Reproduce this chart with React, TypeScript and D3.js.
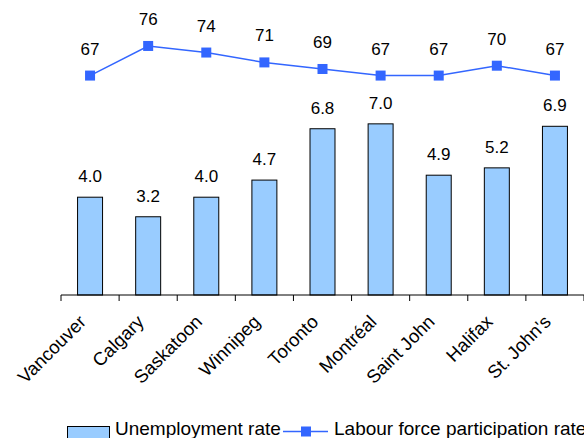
import React from "react";
import * as d3 from "d3";

const cities = [
  "Vancouver",
  "Calgary",
  "Saskatoon",
  "Winnipeg",
  "Toronto",
  "Montréal",
  "Saint John",
  "Halifax",
  "St. John's",
];
const unemploymentRate = [4.0, 3.2, 4.0, 4.7, 6.8, 7.0, 4.9, 5.2, 6.9];
const participationRate = [67, 76, 74, 71, 69, 67, 67, 70, 67];
const seriesNames = ["Unemployment rate", "Labour force participation rate"];

const W = 584;
const H = 438;
const FONT = "'Liberation Sans', Arial, sans-serif";
const BAR_FILL = "#99CCFF";
const LINE_COLOR = "#3366FF";

export default function App() {
  const baseY = 295;
  const x = d3.scaleBand<string>().domain(cities).range([61, 584]).padding(0);
  const yBar = d3.scaleLinear().domain([0, 10]).range([baseY, 50.5]);
  const yLine = d3.scaleLinear().domain([0, 80]).range([296, 32.8]);
  const bw = x.bandwidth();
  const barW = bw * 0.43;
  const cx = (c: string) => (x(c) as number) + bw / 2;

  const linePath = d3
    .line<number>()
    .x((_, i) => cx(cities[i]))
    .y((d) => yLine(d))(participationRate) as string;

  const ticks = [...cities.map((c) => x(c) as number), 584];
  const marker = 10;
  const legendY = 431.5;

  return (
    <svg
      width={W}
      height={H}
      style={{ position: "absolute", left: 0, top: 0, background: "#fff" }}
      fontFamily={FONT}
    >
      {/* unemployment bars */}
      {cities.map((c, i) => (
        <g key={c}>
          <rect
            x={cx(c) - barW / 2}
            y={yBar(unemploymentRate[i])}
            width={barW}
            height={baseY - yBar(unemploymentRate[i])}
            fill={BAR_FILL}
            stroke="#000"
            strokeWidth={1}
          />
          <text
            x={cx(c)}
            y={yBar(unemploymentRate[i]) - 15}
            textAnchor="middle"
            fontSize={17}
            fill="#000"
          >
            {unemploymentRate[i].toFixed(1)}
          </text>
        </g>
      ))}

      {/* x axis */}
      <line x1={61} x2={584} y1={baseY} y2={baseY} stroke="#000" strokeWidth={1} />
      {ticks.map((t, i) => (
        <line key={i} x1={t} x2={t} y1={baseY} y2={baseY + 6} stroke="#000" strokeWidth={1} />
      ))}
      {cities.map((c) => (
        <text
          key={c}
          transform={`translate(${cx(c) - 3},${baseY + 28}) rotate(-45)`}
          textAnchor="end"
          fontSize={18.5}
          fill="#000"
        >
          {c}
        </text>
      ))}

      {/* participation line */}
      <path d={linePath} fill="none" stroke={LINE_COLOR} strokeWidth={1.5} />
      {participationRate.map((v, i) => (
        <g key={i}>
          <rect
            x={cx(cities[i]) - marker / 2}
            y={yLine(v) - marker / 2}
            width={marker}
            height={marker}
            fill={LINE_COLOR}
          />
          <text x={cx(cities[i])} y={yLine(v) - 21} textAnchor="middle" fontSize={17} fill="#000">
            {v}
          </text>
        </g>
      ))}

      {/* legend */}
      <rect x={67.5} y={legendY - 5} width={42} height={12} fill={BAR_FILL} stroke="#000" strokeWidth={1} />
      <text x={115} y={434.5} fontSize={19} fill="#000">
        {seriesNames[0]}
      </text>
      <line x1={283} x2={328} y1={legendY} y2={legendY} stroke={LINE_COLOR} strokeWidth={1.5} />
      <rect x={306 - marker / 2} y={legendY - marker / 2} width={marker} height={marker} fill={LINE_COLOR} />
      <text x={334} y={434.5} fontSize={19} fill="#000">
        {seriesNames[1]}
      </text>
    </svg>
  );
}
